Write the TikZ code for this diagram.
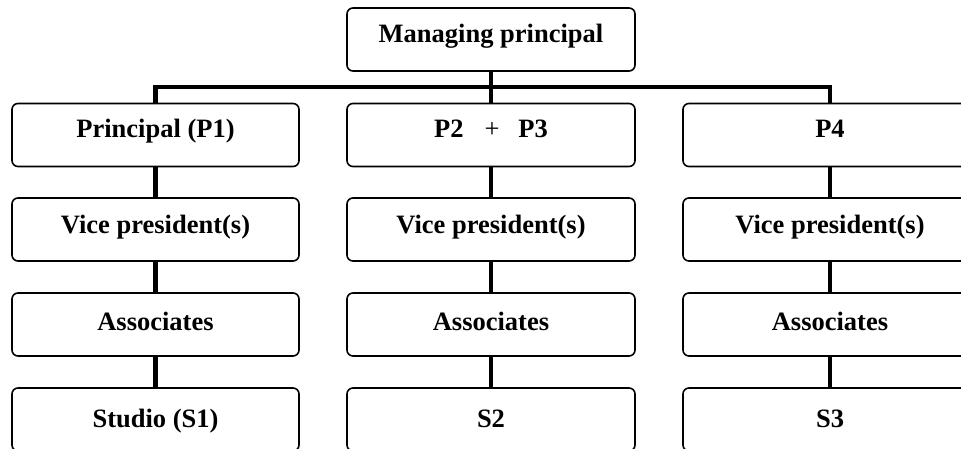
\documentclass[tikz,border=0pt]{standalone}
\usepackage{fontspec}
\setmainfont{Liberation Serif}
\begin{document}
\begin{tikzpicture}[x=1pt,y=-1pt,
  box/.style={draw=black, line width=1.6pt, rounded corners=6pt, fill=white,
    minimum width=287pt, minimum height=63pt, inner sep=0pt, outer sep=0pt},
  lbl/.style={anchor=base, inner sep=0pt, font=\fontsize{26.5}{30}\selectfont\bfseries},
  conn/.style={line width=4.6pt, line join=miter, line cap=butt}]
\clip (0,0) rectangle (961,448);
\fill[white] (0,0) rectangle (961,448);
% boxes
\node[box, minimum width=288pt] (top) at (491,39.5) {};
\node[box] (p1) at (155.5,135) {};
\node[box, minimum width=288pt] (p23) at (491,135) {};
\node[box, minimum width=294pt] (p4) at (830,135) {};
\node[box] (v1) at (155.5,229.5) {};
\node[box, minimum width=288pt] (v2) at (491,229.5) {};
\node[box, minimum width=294pt] (v3) at (830,229.5) {};
\node[box] (a1) at (155.5,324.5) {};
\node[box, minimum width=288pt] (a2) at (491,324.5) {};
\node[box, minimum width=294pt] (a3) at (830,324.5) {};
\node[box] (s1) at (155.5,419.5) {};
\node[box, minimum width=288pt] (s2) at (491,419.5) {};
\node[box, minimum width=294pt] (s3) at (830,419.5) {};
% labels
\node[lbl] (ttop) at (491,42) {Managing principal};
\node[lbl] (tp1) at (155.5,137) {Principal (P1)};
\node[lbl] (tp23) at (491,137) {P2\hspace{21pt}{\mdseries +}\hspace{19pt}P3};
\node[lbl] (tp4) at (830,137) {P4};
\node[lbl] (tv1) at (155.5,233) {Vice president(s)};
\node[lbl] (tv2) at (491,233) {Vice president(s)};
\node[lbl] (tv3) at (830,233) {Vice president(s)};
\node[lbl] (ta1) at (155.5,330) {Associates};
\node[lbl] (ta2) at (491,330) {Associates};
\node[lbl] (ta3) at (830,330) {Associates};
\node[lbl] (ts1) at (155.5,427) {Studio (S1)};
\node[lbl] (ts2) at (491,427) {S2};
\node[lbl] (ts3) at (830,427) {S3};
% connectors
\coordinate (bus) at (491,87);
\draw[conn] (p1.north) |- (bus) -| (p4.north);
\draw[conn] (top.south) -- (p23.north);
\foreach \a/\b in {p1/v1,v1/a1,a1/s1,p23/v2,v2/a2,a2/s2,p4/v3,v3/a3,a3/s3}
  \draw[conn] (\a.south) -- (\b.north);
\end{tikzpicture}
\end{document}
